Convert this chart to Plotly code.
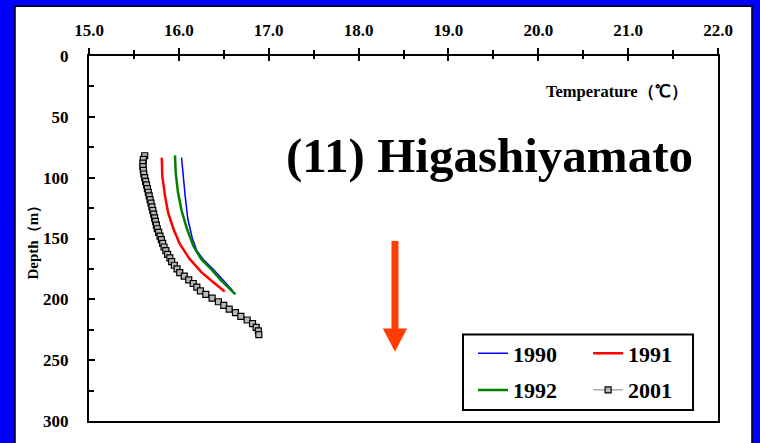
import plotly.graph_objects as go

# Borehole temperature profiles, Higashiyamato (depth in m, temperature in deg C)
depth_1990 = [83.5, 100, 115, 134, 150, 160, 167, 175, 183, 193]
temp_1990 = [16.03, 16.05, 16.07, 16.10, 16.15, 16.20, 16.27, 16.38, 16.48, 16.60]

depth_1991 = [83.6, 98.7, 115, 128.6, 142.2, 154.5, 166.8, 177.7, 185.8, 193.5]
temp_1991 = [15.81, 15.816, 15.846, 15.88, 15.94, 16.01, 16.12, 16.25, 16.38, 16.51]

depth_1992 = [81.7, 96, 112, 127, 142, 156, 167, 176, 184.5, 196]
temp_1992 = [15.957, 15.965, 15.99, 16.03, 16.09, 16.16, 16.25, 16.37, 16.47, 16.63]

depth_2001 = [82, 85, 88, 91, 94, 97, 100, 103, 106, 109, 112, 115, 118, 121, 124,
              127, 130, 133, 136, 139, 142, 145, 148, 151, 154, 157, 160, 163, 166,
              169, 172, 175, 178, 181, 184, 187, 190, 193, 196, 199, 202, 205, 208,
              211, 214, 217, 220, 223, 226, 229]
temp_2001 = [15.62, 15.605, 15.60, 15.60, 15.605, 15.61, 15.62, 15.63, 15.64, 15.65,
             15.66, 15.67, 15.68, 15.69, 15.70, 15.71, 15.72, 15.73, 15.74, 15.75,
             15.76, 15.775, 15.79, 15.805, 15.82, 15.835, 15.855, 15.875, 15.90, 15.92,
             15.95, 15.98, 16.01, 16.06, 16.11, 16.16, 16.20, 16.24, 16.30, 16.37,
             16.44, 16.50, 16.56, 16.63, 16.69, 16.76, 16.82, 16.86, 16.885, 16.89]

x_ticks = [15, 16, 17, 18, 19, 20, 21, 22]
y_ticks = [0, 50, 100, 150, 200, 250, 300]

SERIF = "Liberation Serif, Times New Roman, serif"
BG_BLUE = "#0000FF"
ARROW = "#FF3D00"

fig = go.Figure()

fig.add_trace(go.Scatter(x=temp_1990, y=depth_1990, mode="lines", name="1990",
                         line=dict(color="#0000FF", width=1.5),
                         legend="legend", legendgroup="a"))
fig.add_trace(go.Scatter(x=temp_1992, y=depth_1992, mode="lines", name="1992",
                         line=dict(color="#008000", width=2.5),
                         legend="legend", legendgroup="b"))
fig.add_trace(go.Scatter(x=temp_1991, y=depth_1991, mode="lines", name="1991",
                         line=dict(color="#FF0000", width=2.5),
                         legend="legend2", legendgroup="c"))
fig.add_trace(go.Scatter(x=temp_2001, y=depth_2001, mode="lines+markers", name="2001",
                         line=dict(color="#808080", width=1),
                         marker=dict(symbol="square", size=6, color="#B8B8B8",
                                     line=dict(color="black", width=1.2)),
                         legend="legend2", legendgroup="d"))
# empty trace so the overlay axis (inner half of the crossing ticks) is drawn
fig.add_trace(go.Scatter(x=[], y=[], xaxis="x2", showlegend=False, hoverinfo="skip"))

tick_font = dict(family=SERIF, size=17, color="black", weight="bold")

fig.update_layout(
    width=760, height=443,
    margin=dict(l=89, r=42, t=56, b=20),
    paper_bgcolor=BG_BLUE,
    plot_bgcolor="white",
    showlegend=True,
    xaxis=dict(
        side="top", range=[15, 22], tickvals=x_ticks,
        ticktext=[f"{v:.1f}" for v in x_ticks],
        ticks="outside", ticklen=6, tickwidth=2, tickcolor="black",
        minor=dict(dtick=0.5, ticks="outside", ticklen=4, tickwidth=1.5, tickcolor="black"),
        showline=True, linecolor="black", linewidth=2, mirror=True,
        showgrid=False, zeroline=False, tickfont=tick_font, ticklabelstandoff=5,
    ),
    xaxis2=dict(
        overlaying="x", matches="x", side="top", anchor="y", range=[15, 22],
        tickvals=x_ticks, showticklabels=False,
        ticks="inside", ticklen=5, tickwidth=2, tickcolor="black",
        minor=dict(dtick=0.5, ticks="inside", ticklen=3, tickwidth=1.5, tickcolor="black"),
        showline=False, showgrid=False, zeroline=False,
    ),
    yaxis=dict(
        range=[300, 0], tickvals=y_ticks,
        ticks="inside", ticklen=6, tickwidth=2, tickcolor="black",
        minor=dict(dtick=25, ticks="inside", ticklen=5, tickwidth=1.5, tickcolor="black"),
        showline=True, linecolor="black", linewidth=2, mirror=True,
        showgrid=False, zeroline=False, tickfont=tick_font, ticklabelstandoff=15,
    ),
    legend=dict(
        x=0.6105, y=0.2425, xanchor="left", yanchor="top",
        bgcolor="rgba(0,0,0,0)", borderwidth=0, tracegroupgap=5,
        font=dict(family=SERIF, size=22, color="black", weight="bold"),
    ),
    legend2=dict(
        x=0.7935, y=0.2425, xanchor="left", yanchor="top",
        bgcolor="rgba(0,0,0,0)", borderwidth=0, tracegroupgap=5,
        font=dict(family=SERIF, size=22, color="black", weight="bold"),
    ),
)

# white panel behind the chart, legend frame, and the downward arrow
fig.add_shape(type="rect", xref="paper", yref="paper",
              x0=-0.1176, x1=1.054, y0=-0.07, y1=1.1362,
              fillcolor="white", line=dict(color="black", width=1.5), layer="below")
fig.add_shape(type="rect", xref="paper", yref="paper",
              x0=0.5946, x1=0.9603, y0=0.030, y1=0.237,
              fillcolor="rgba(0,0,0,0)", line=dict(color="black", width=2))
fig.add_shape(type="line", xref="x", yref="y", x0=18.405, x1=18.405, y0=152, y1=226,
              line=dict(color=ARROW, width=7))
fig.add_shape(type="path", xref="x", yref="y",
              path="M 18.27 224 L 18.54 224 L 18.405 243 Z",
              fillcolor=ARROW, line=dict(color=ARROW, width=0))

fig.add_annotation(text="(11) Higashiyamato", xref="paper", yref="paper",
                   x=0.6375, y=0.7275, xanchor="center", yanchor="middle", showarrow=False,
                   font=dict(family=SERIF, size=49, color="black", weight="bold"))
fig.add_annotation(text="Temperature（℃）", xref="paper", yref="paper",
                   x=0.9555, y=0.902, xanchor="right", yanchor="middle", showarrow=False,
                   font=dict(family=SERIF, size=16.5, color="black", weight="bold"))
fig.add_annotation(text="Depth（m）", xref="paper", yref="paper",
                   x=-0.0906, y=0.5, xanchor="center", yanchor="middle", showarrow=False,
                   textangle=-90,
                   font=dict(family=SERIF, size=15, color="black", weight="bold"))

fig.write_html("out.html")
